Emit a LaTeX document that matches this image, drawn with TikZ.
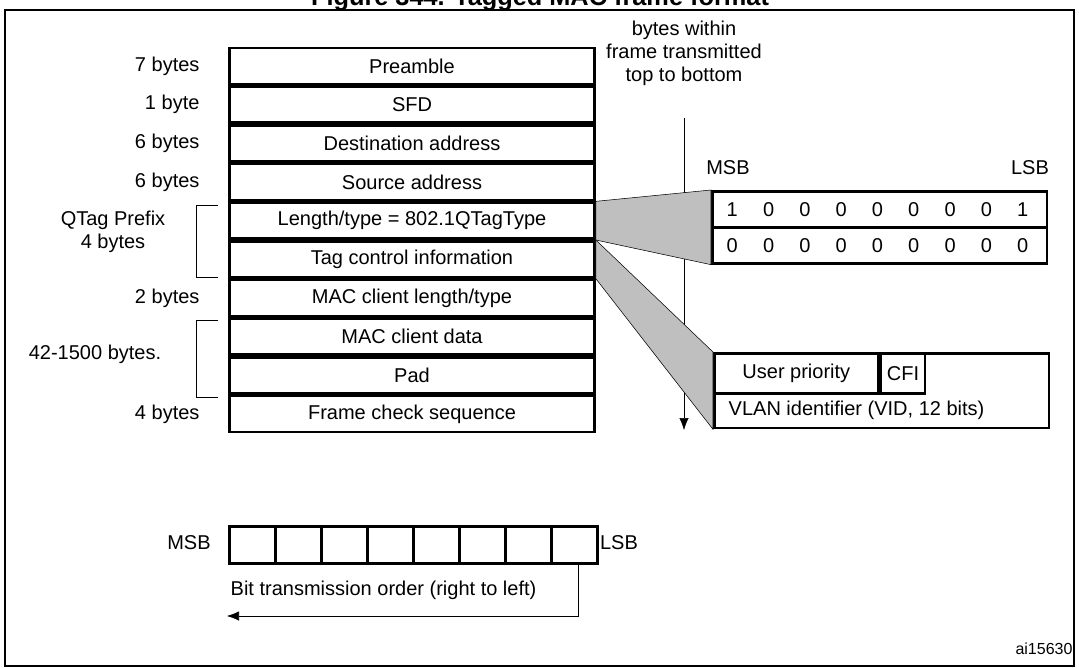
\documentclass[tikz,border=0pt]{standalone}
\usepackage{fontspec}
\setmainfont{Liberation Sans}
\usetikzlibrary{positioning, arrows, arrows.meta, calc}
\tikzset{
	>=latex,
	node distance=0pt,
	field/.style={draw, line width=2pt, minimum width=273.75pt, minimum height=27pt, inner sep=0pt},
	bitcell/.style={draw, line width=2pt, minimum width=34.5pt, minimum height=27.75pt, inner sep=0pt},
	size/.style={anchor=east},
	wedge/.style={draw, thin, fill=gray!50},
}

\begin{document}
\begin{tikzpicture}[x=0.75pt, y=-0.75pt, font=\fontsize{15}{17}\selectfont]
			\useasboundingbox (0,0) rectangle (1079,668);
			\node[font=\bfseries\fontsize{19}{21}\selectfont] (title) at (540,-1) {Figure 344. Tagged MAC frame format};
			\draw[line width=1.5pt] (5,10) rectangle (1074,666);
			
			\node[field] (PRE) at (412,66) {Preamble};
			\node[field, below=of PRE] (SFD) {SFD};
			\node[field, below=of SFD] (DA) {Destination address};
			\node[field, below=of DA] (SA) {Source address};
			\node[field, below=of SA] (LT) {Length/type = 802.1QTagType};
			\node[field, below=of LT] (TCI) {Tag control information};
			\node[field, below=of TCI] (MLT) {MAC client length/type};
			\node[field, below=of MLT] (MCD) {MAC client data};
			\node[field, below=of MCD] (PAD) {Pad};
			\node[field, below=of PAD] (FCS) {Frame check sequence};
			
			\node[size] at (PRE.west) [xshift=-18] {7 bytes};
			\node[size] at (SFD.west) [xshift=-18] {1 byte};
			\node[size] at (DA.west) [xshift=-18] {6 bytes};
			\node[size] at (SA.west) [xshift=-18] {6 bytes};
			\node[size] at (MLT.west) [xshift=-18] {2 bytes};
			\node[size] at (FCS.west) [xshift=-18] {4 bytes};
			\node[align=center] (qtag) at (113,232) {QTag Prefix\\4 bytes};
			\node (data) at (95,354) {42-1500 bytes.};
			\draw[-] (218,205) -- (196,205) -- (196,277) -- (218,277);
			\draw[-] (218,320) -- (196,320) -- (196,397) -- (218,397);
			
			% order of bytes
			\node[align=center, text height=11pt] (order) at (684,76) {bytes within\\frame transmitted\\top to bottom};
			\coordinate (ordend) at (684,430);
			\draw[-{Latex[length=9pt,width=7pt]}, thin] (684,118) -- (ordend);
			
			% tag type bits
			\node[anchor=north west, draw, line width=2pt, minimum width=251pt, minimum height=27pt, inner sep=0pt] (TT1) at (711,190) {};
			\node[anchor=north west, draw, line width=2pt, minimum width=251pt, minimum height=27pt, inner sep=0pt] (TT2) at (711,226) {};
			\foreach \b [count=\i] in {1,0,0,0,0,0,0,0,1}
				\node at ($(TT1.west)+(\i*36.3-15,0)$) {\b};
			\foreach \b [count=\i] in {0,0,0,0,0,0,0,0,0}
				\node at ($(TT2.west)+(\i*36.3-15,0)$) {\b};
			\node (tmsb) at (728,168) {MSB};
			\node (tlsb) at (1030,168) {LSB};
			\draw[wedge] (LT.north east) -- (TT1.north west) -- (TT2.south west) -- (LT.south east) -- cycle;
			
			% tag control information
			\node[anchor=north west, draw, line width=2pt, minimum width=251pt, minimum height=56pt, inner sep=0pt] (TC) at (713,352) {};
			\node[anchor=north west, draw, line width=2pt, minimum width=123pt, minimum height=30pt, inner sep=0pt] (UP) at (713,352) {User priority};
			\node[anchor=north west, draw, line width=2pt, minimum width=33pt, minimum height=30pt, inner sep=0pt] (CFI) at (UP.north east) {CFI};
			\node[anchor=west] (VID) at (724,410) {VLAN identifier (VID, 12 bits)};
			\draw[wedge] (TCI.north east) -- (TC.north west) -- (TC.south west) -- (TCI.south east) -- cycle;
			
			% bit order
			\foreach \i in {0,...,7}
				\node[bitcell, anchor=north west] (bit\i) at (228+\i*46,525) {};
			\node (msb) at (189,543) {MSB};
			\node (lsb) at (619,543) {LSB};
			\node[anchor=west] (bitorder) at (226,590) {Bit transmission order (right to left)};
			\coordinate (bitend) at (227,616);
			\draw[-{Latex[length=9pt,width=7pt]}, thin] ($(bit7.south)+(4,0)$) |- (bitend);
			\node[font=\fontsize{12}{14}\selectfont] (id) at (1044,649) {ai15630};
		\end{tikzpicture}
\end{document}
